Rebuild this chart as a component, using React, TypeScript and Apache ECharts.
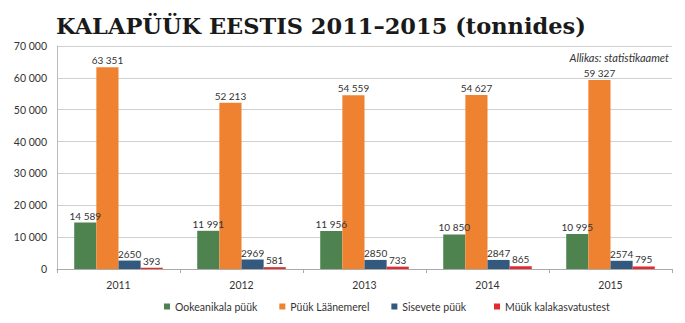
import React, { useEffect, useRef } from "react";
import * as echarts from "echarts";

const years = ["2011", "2012", "2013", "2014", "2015"];
const ookeanikala = [14589, 11991, 11956, 10850, 10995];
const laanemeri = [63351, 52213, 54559, 54627, 59327];
const sisevete = [2650, 2969, 2850, 2847, 2574];
const kalakasvatus = [393, 581, 733, 865, 795];
const yTicks = [0, 10000, 20000, 30000, 40000, 50000, 60000, 70000];

const seriesNames = ["Ookeanikala püük", "Püük Läänemerel", "Sisevete püük", "Müük kalakasvatustest"];
const seriesColors = ["#4e8350", "#ee8230", "#33597f", "#e52a2f"];

const fmt = (v: number) => {
  const s = String(v);
  return v >= 10000 ? s.replace(/\B(?=(\d{3})+(?!\d))/g, " ") : s;
};

const FONT = "Lato, 'Noto Sans', sans-serif";

export default function App() {
  const ref = useRef<HTMLDivElement>(null);
  useEffect(() => {
    document.body.style.margin = "0";
    if (!ref.current) return;
    const chart = echarts.init(ref.current, null, { renderer: "svg" });
    const datas = [ookeanikala, laanemeri, sisevete, kalakasvatus];
    const legendText = { fontSize: 10.5, color: "#333", fontFamily: FONT };
    chart.setOption({
      animation: false,
      textStyle: { fontFamily: FONT },
      title: {
        text: "KALAPÜÜK EESTIS 2011–2015 (tonnides)",
        left: 56,
        top: 14,
        padding: 0,
        textStyle: {
          fontFamily: "'DejaVu Serif', serif",
          fontWeight: "bold",
          fontSize: 22.5,
          color: "#1a1a1a",
        },
      },
      graphic: [
        {
          type: "text",
          x: 669,
          y: 57,
          style: {
            text: "Allikas: statistikaamet",
            align: "right",
            verticalAlign: "middle",
            font: "italic 11px Lato, sans-serif",
            fill: "#333",
          },
        },
      ],
      grid: { left: 57, right: 13, top: 46, bottom: 54 },
      legend: [
        {
          top: 296,
          left: 159,
          itemWidth: 6,
          itemHeight: 6,
          itemGap: 22,
          icon: "rect",
          textStyle: legendText,
          data: seriesNames.slice(0, 3),
        },
        {
          top: 296,
          left: 489,
          itemWidth: 6,
          itemHeight: 6,
          icon: "rect",
          textStyle: legendText,
          data: seriesNames.slice(3),
        },
      ],
      xAxis: {
        type: "category",
        data: years,
        axisLine: { lineStyle: { color: "#aaa" } },
        axisTick: { show: true, length: 4, lineStyle: { color: "#aaa" } },
        axisLabel: { fontSize: 10.5, color: "#333", margin: 10, fontFamily: FONT },
      },
      yAxis: {
        type: "value",
        min: 0,
        max: 70000,
        interval: 10000,
        axisLine: { show: true, lineStyle: { color: "#bbb" } },
        axisTick: { show: false },
        splitLine: { lineStyle: { color: "#d0d0d0" } },
        axisLabel: {
          fontSize: 10.5,
          color: "#333",
          margin: 10,
          fontFamily: FONT,
          formatter: (v: number) => (yTicks.includes(v) ? fmt(v) : ""),
        },
      },
      series: seriesNames.map((name, i) => ({
        name,
        type: "bar",
        data: datas[i],
        barGap: "0%",
        barCategoryGap: "28%",
        itemStyle: { color: seriesColors[i] },
        label: {
          show: true,
          position: "top",
          distance: 2,
          fontSize: 10,
          color: "#333",
          fontFamily: FONT,
          formatter: (p: any) => fmt(p.value),
        },
      })),
    });
    return () => chart.dispose();
  }, []);
  return <div ref={ref} style={{ width: 685, height: 323 }} />;
}
